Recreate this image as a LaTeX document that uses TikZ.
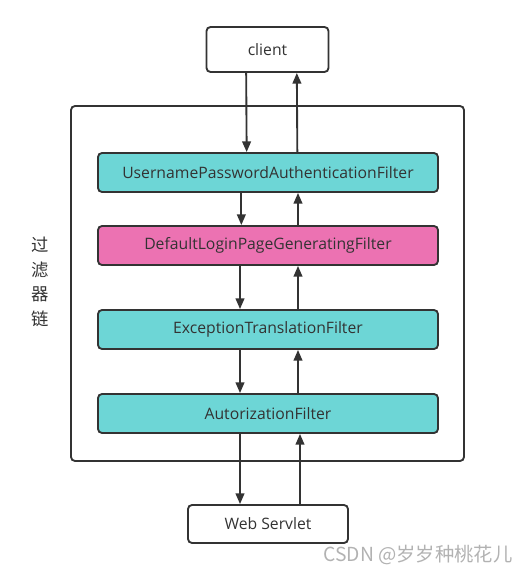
\documentclass[tikz,border=0pt]{standalone}
\usepackage{fontspec}
\setmainfont{Open Sans}
\newfontfamily\cjk{Noto Sans CJK SC}
\usetikzlibrary{arrows.meta,positioning}
\definecolor{linegray}{HTML}{333333}
\definecolor{filtercyan}{HTML}{6DD6D6}
\definecolor{filterpink}{HTML}{EC72B2}
\begin{document}
\begin{tikzpicture}[x=0.75pt,y=-0.75pt,
		line width=1.4pt,draw=linegray,font=\fontsize{11.8}{13}\selectfont,text=linegray,
		box/.style = {rectangle,rounded corners=3pt,draw=linegray,inner sep=0pt},
		filter/.style = {box,minimum width=255pt,minimum height=29.25pt},
		arr/.style = {-{Triangle[length=8pt,width=6.5pt]},draw=linegray}]
		
		\useasboundingbox (0,0) rectangle (529,576);
		\node[box,minimum width=294.75pt,minimum height=266.25pt] (chain) at (267.5,283.5) {};
		\node[box,fill=white,minimum width=91.5pt,minimum height=33.75pt] (client) at (267.5,49.5) {client};
		\node[filter,fill=filtercyan] (upaf) at (268,172.5) {UsernamePasswordAuthenticationFilter};
		\node[filter,fill=filterpink] (dlpgf) at (268,245.5) {DefaultLoginPageGeneratingFilter};
		\node[filter,fill=filtercyan] (etf) at (268,329.5) {ExceptionTranslationFilter};
		\node[filter,fill=filtercyan] (af) at (268,413.5) {AutorizationFilter};
		\node[box,fill=white,minimum width=120pt,minimum height=28.5pt] (servlet) at (268,524) {Web Servlet};
		\node[align=center,font=\cjk\fontsize{13}{18.4}\selectfont] (label) at (40,282) {过\\滤\\器\\链};
		\node[text=black!30,font=\cjk\fontsize{14.5}{15}\selectfont] (mark) at (418,555) {CSDN @岁岁种桃花儿};
		
		% request goes down, response comes back up
		\draw[arr] ([xshift=-16pt]client.south) -- ([xshift=-16pt]upaf.north);
		\draw[arr] ([xshift=22pt]upaf.north) -- ([xshift=22pt]client.south);
		\draw[arr] ([xshift=-20pt]upaf.south) -- ([xshift=-20pt]dlpgf.north);
		\draw[arr] ([xshift=22.5pt]dlpgf.north) -- ([xshift=22.5pt]upaf.south);
		\draw[arr] ([xshift=-21pt]dlpgf.south) -- ([xshift=-21pt]etf.north);
		\draw[arr] ([xshift=22.5pt]etf.north) -- ([xshift=22.5pt]dlpgf.south);
		\draw[arr] ([xshift=-21pt]etf.south) -- ([xshift=-21pt]af.north);
		\draw[arr] ([xshift=22.5pt]af.north) -- ([xshift=22.5pt]etf.south);
		\draw[arr] ([xshift=-21pt]af.south) -- ([xshift=-21pt]servlet.north);
		\draw[arr] ([xshift=24pt]servlet.north) -- ([xshift=24pt]af.south);
\end{tikzpicture}
\end{document}
